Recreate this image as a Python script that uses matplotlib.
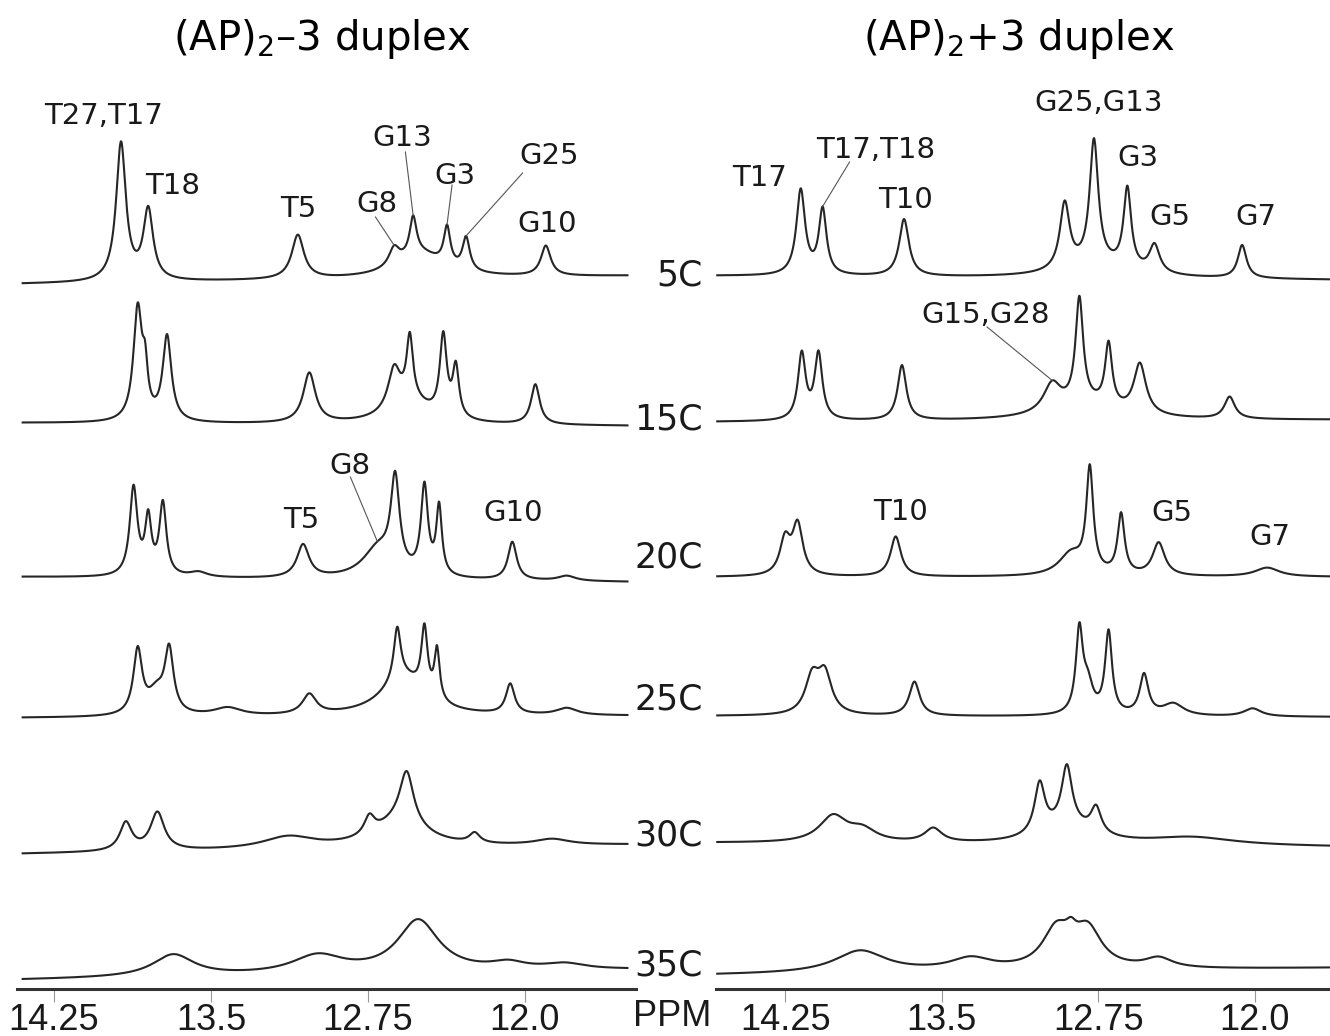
import numpy as np
import matplotlib.pyplot as plt

plt.rcParams["font.family"] = ["DejaVu Sans"]
plt.rcParams["mathtext.fontset"] = "dejavusans"

# imino peaks of each trace: (shift in ppm, height, half-width in ppm)
minus3_05C = [(13.93, 138, 0.028), (13.80, 70, 0.028), (13.085, 44, 0.035),
              (12.50, 24, 0.14), (12.625, 18, 0.03), (12.534, 38, 0.02),
              (12.372, 38, 0.019), (12.281, 33, 0.021), (11.90, 30, 0.028)]
minus3_15C = [(13.85, 112, 0.025), (13.815, 40, 0.015), (13.71, 85, 0.025),
              (13.03, 50, 0.035), (12.55, 22, 0.12), (12.625, 40, 0.035),
              (12.55, 62, 0.018), (12.39, 80, 0.02), (12.33, 50, 0.018),
              (11.95, 40, 0.025)]
minus3_20C = [(13.87, 88, 0.022), (13.80, 55, 0.018), (13.73, 72, 0.02),
              (13.56, 5, 0.05), (13.06, 33, 0.035), (12.70, 30, 0.09),
              (12.62, 90, 0.025), (12.48, 88, 0.02), (12.41, 68, 0.016),
              (12.06, 38, 0.025), (11.80, 5, 0.05)]
minus3_25C = [(13.85, 64, 0.025), (13.76, 22, 0.05), (13.70, 62, 0.025),
              (13.42, 8, 0.08), (13.03, 20, 0.04), (12.58, 38, 0.13),
              (12.61, 52, 0.02), (12.48, 65, 0.018), (12.42, 50, 0.015),
              (12.07, 30, 0.025), (11.80, 7, 0.06)]
minus3_30C = [(13.907, 28, 0.035), (13.756, 38, 0.04), (13.13, 12, 0.15),
              (12.60, 25, 0.15), (12.743, 18, 0.03), (12.565, 52, 0.04),
              (12.24, 10, 0.03), (11.87, 6, 0.1)]
minus3_35C = [(13.68, 22, 0.12), (12.99, 18, 0.15), (12.51, 52, 0.12),
              (12.08, 7, 0.1), (11.81, 6, 0.12)]

plus3_05C = [(14.175, 85, 0.025), (14.07, 65, 0.022), (13.68, 57, 0.028),
             (12.75, 12, 0.2), (12.91, 66, 0.028), (12.77, 124, 0.025),
             (12.61, 80, 0.022), (12.48, 28, 0.03), (12.06, 33, 0.025)]
plus3_15C = [(14.17, 66, 0.022), (14.09, 66, 0.022), (13.69, 55, 0.025),
             (12.80, 15, 0.2), (12.97, 28, 0.05), (12.84, 105, 0.022),
             (12.70, 62, 0.02), (12.55, 50, 0.035), (12.12, 22, 0.03)]
plus3_20C = [(14.25, 35, 0.03), (14.19, 50, 0.03), (13.72, 40, 0.03),
             (12.88, 22, 0.07), (12.79, 103, 0.02), (12.64, 60, 0.02),
             (12.46, 33, 0.035), (11.94, 9, 0.07)]
plus3_25C = [(14.12, 36, 0.04), (14.06, 39, 0.04), (13.63, 34, 0.03),
             (12.84, 82, 0.02), (12.80, 28, 0.03), (12.70, 82, 0.02),
             (12.53, 40, 0.025), (12.39, 12, 0.06), (12.01, 8, 0.05)]
plus3_30C = [(14.02, 26, 0.08), (13.88, 12, 0.08), (13.54, 14, 0.05),
             (12.90, 18, 0.15), (13.03, 50, 0.03), (12.90, 58, 0.03),
             (12.76, 26, 0.03), (12.30, 8, 0.25)]
plus3_35C = [(13.89, 22, 0.15), (13.36, 12, 0.12), (12.95, 38, 0.08),
             (12.80, 38, 0.08), (12.88, 12, 0.03), (12.46, 10, 0.08)]

temps = ["5C", "15C", "20C", "25C", "30C", "35C"]
minus3_traces = [minus3_05C, minus3_15C, minus3_20C, minus3_25C, minus3_30C, minus3_35C]
plus3_traces = [plus3_05C, plus3_15C, plus3_20C, plus3_25C, plus3_30C, plus3_35C]
ppm_ticks = [14.25, 13.5, 12.75, 12.0]
ppm_ticklabels = ["14.25", "13.5", "12.75", "12.0"]

# peak assignments: (text, ppm, y)
minus3_labels = [("T27,T17", 14.011, 116), ("T18", 13.681, 186), ("T5", 13.083, 209),
                 ("G8", 12.709, 204), ("G13", 12.585, 138), ("G3", 12.336, 176),
                 ("G25", 11.882, 156), ("G10", 11.896, 224),
                 ("T5", 13.068, 520), ("G8", 12.834, 466), ("G10", 12.054, 513)]
plus3_labels = [("T17", 14.370, 178), ("T17,T18", 13.814, 150), ("T10", 13.675, 200),
                ("G25,G13", 12.750, 103), ("G3", 12.559, 158), ("G5", 12.405, 217),
                ("G7", 11.993, 217), ("G15,G28", 13.287, 315),
                ("T10", 13.699, 512), ("G5", 12.396, 513), ("G7", 11.926, 537)]
# leader lines: (ppm, y at text end, trace index, ppm on trace)
minus3_leaders = [(12.714, 217, 0, 12.625), (12.571, 152, 0, 12.534),
                  (12.348, 185, 0, 12.372), (12.011, 173, 0, 12.281),
                  (12.834, 477, 2, 12.705)]
plus3_leaders = [(13.941, 162, 0, 14.07), (13.282, 327, 1, 12.97)]

W, H = 1330, 1036
AXIS_Y = 989
# baseline (left end, right end) of each trace, pixels from top
minus3_base = [(284, 276), (423, 426), (577, 582), (718, 716), (854, 845), (980, 970)]
plus3_base = [(276, 280), (422, 420), (577, 577), (716, 717), (843, 847), (975, 968)]
temp_y = [276, 419, 557, 700, 835, 965]
LINE = "#262626"


def spectrum(x, peaks):
    y = np.zeros_like(x)
    for c, h, w in peaks:
        y += h / (1 + ((x - c) / w) ** 2)
    return y


def trace_y(x, peaks, base, x0, x1):
    b = base[0] + (base[1] - base[0]) * (x0 - x) / (x0 - x1)
    return b - spectrum(x, peaks)


def panel(px0, px1, xlim, trace_span, traces, bases, labels, leaders, title, title_x):
    ax = fig.add_axes([px0 / W, (H - AXIS_Y) / H, (px1 - px0) / W, AXIS_Y / H])
    ax.set_xlim(*xlim)
    ax.set_ylim(AXIS_Y, 0)
    x = np.linspace(trace_span[0], trace_span[1], 2000)
    for peaks, base in zip(traces, bases):
        ax.plot(x, trace_y(x, peaks, base, *trace_span), color=LINE, lw=1.5)
    for text, px, py in labels:
        ax.text(px, py, text, fontsize=21, ha="center", va="center", color="#1a1a1a")
    for px, py, i, p in leaders:
        yp = trace_y(np.array([p]), traces[i], bases[i], *trace_span)[0]
        ax.plot([px, p], [py, yp], color="#555555", lw=0.8)
    for s in ["top", "left", "right"]:
        ax.spines[s].set_visible(False)
    ax.spines["bottom"].set_linewidth(2.2)
    ax.spines["bottom"].set_color("#333333")
    ax.set_yticks([])
    ax.set_xticks(ppm_ticks)
    ax.set_xticklabels(ppm_ticklabels, family="Liberation Sans", fontsize=26)
    ax.tick_params(axis="x", direction="out", length=9, width=0.8,
                   color="#999999", pad=1, labelcolor="#1a1a1a")
    ax.patch.set_alpha(0)
    fig.text(title_x / W, 1 - 39 / H, title, fontsize=29, ha="center", va="center")
    return ax


fig = plt.figure(figsize=(W / 100, H / 100), dpi=100)
panel(17, 636, (14.427, 11.469), (14.40, 11.51), minus3_traces, minus3_base,
      minus3_labels, minus3_leaders, r"(AP)$_2$–3 duplex", 322)
panel(716, 1330, (14.581, 11.639), (14.575, 11.639), plus3_traces, plus3_base,
      plus3_labels, plus3_leaders, r"(AP)$_2$+3 duplex", 1019)

for t, ty in zip(temps, temp_y):
    fig.text(703 / W, 1 - ty / H, t, fontsize=25, ha="right", va="center", color="#1a1a1a")
fig.text(672 / W, 1 - 1017 / H, "PPM", family="Liberation Sans", fontsize=26,
         ha="center", va="center", color="#1a1a1a")

fig.savefig("out.png", dpi=100)
